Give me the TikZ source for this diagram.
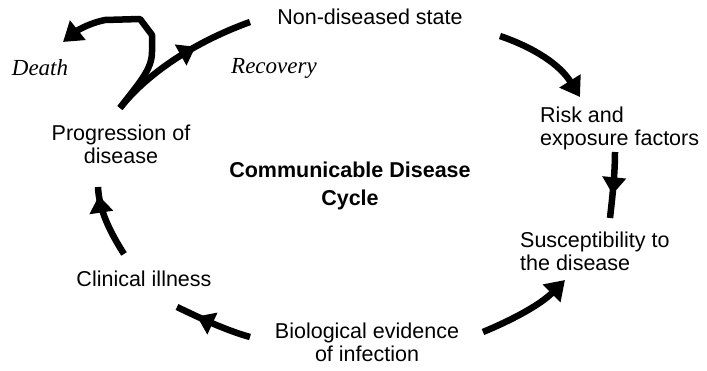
\documentclass[tikz,border=0pt]{standalone}
\usepackage{fontspec}
\setmainfont{Liberation Sans}
\newfontfamily\serifit{Liberation Serif}
\usetikzlibrary{arrows.meta,decorations.markings}
\tikzset{
  lbl/.style={font=\fontsize{21.5}{23}\selectfont, inner sep=0pt},
  ttl/.style={font=\bfseries\fontsize{21.5}{28}\selectfont, inner sep=0pt, align=center},
  itl/.style={font=\serifit\itshape\fontsize{23}{24}\selectfont, inner sep=0pt},
  conn/.style={line width=6.5pt},
  endarr/.style={conn, -{Triangle[length=19pt,width=24pt]}},
  midarr/.style={conn, postaction={decorate}, decoration={markings,
      mark=at position #1 with {\arrow{Triangle[length=17pt,width=23pt]}}}}
}
\begin{document}
\begin{tikzpicture}[x=1pt,y=-1pt]
\useasboundingbox (0,0) rectangle (707,371);
% texts
\node[lbl] (ns) at (370,17) {Non-diseased state};
\node[itl] (death) at (40,68) {Death};
\node[itl] (recov) at (274,68) {Recovery};
\node[lbl, align=center] (prog) at (121,144) {Progression of\\disease};
\node[ttl] (title) at (350,186) {Communicable Disease\\Cycle};
\node[lbl, align=left, anchor=west] (risk) at (540,128) {Risk and\\exposure factors};
\node[lbl, align=left, anchor=west] (susc) at (520,251) {Susceptibility to\\the disease};
\node[lbl] (clin) at (144,279) {Clinical illness};
\node[lbl, align=center] (bio) at (367,342) {Biological evidence\\of infection};
% connector end points
\coordinate (a1s) at (500,36);  \coordinate (a1e) at (580,97);
\coordinate (a2s) at (615,152); \coordinate (a2e) at (610,218);
\coordinate (a3s) at (483,332); \coordinate (a3e) at (565,280);
\coordinate (a4s) at (250,337); \coordinate (a4e) at (177,307);
\coordinate (a5s) at (124,254); \coordinate (a5e) at (98,187);
\coordinate (a6s) at (120,108); \coordinate (a6e) at (250,22);
\coordinate (a7e) at (63,42);
% connectors
\draw[endarr] (a1s) .. controls (535,48) and (560,65) .. (a1e);
\draw[midarr=0.64] (a2s) .. controls (615,175) and (612,200) .. (a2e);
\draw[endarr] (a3s) .. controls (512,320) and (540,305) .. (a3e);
\draw[midarr=0.72] (a4s) .. controls (225,330) and (200,318) .. (a4e);
\draw[midarr=0.88] (a5s) .. controls (110,232) and (99,210) .. (a5e);
\draw[midarr=0.62] (a6s) .. controls (150,70) and (200,40) .. (a6e);
\draw[endarr, line join=round] (a6s) .. controls (138,84) and (152,70) .. (152,52)
   -- (152,35) -- (140,19) -- (105,20) .. controls (90,23) and (78,30) .. (a7e);
\end{tikzpicture}
\end{document}
